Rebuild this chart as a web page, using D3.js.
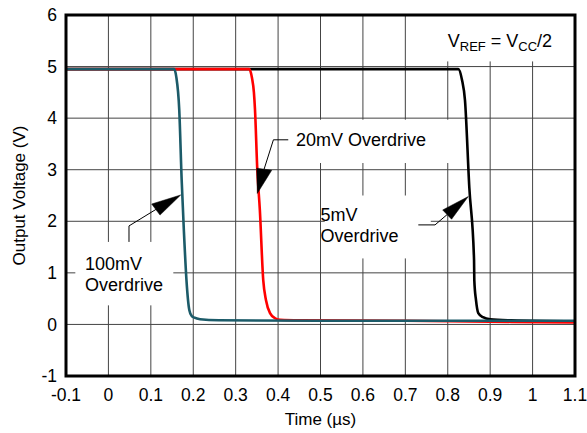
<!DOCTYPE html>
<html>
<head>
<meta charset="utf-8">
<script src="https://cdn.jsdelivr.net/npm/d3@7"></script>
<style>
  body { margin: 0; background: #fff; }
  text { font-family: "Liberation Sans", Arial, Helvetica, sans-serif; fill: #000; }
</style>
</head>
<body>
<div id="chart"></div>
<script>
// time in microseconds, output in volts
const xTicks = [-0.1, 0, 0.1, 0.2, 0.3, 0.4, 0.5, 0.6, 0.7, 0.8, 0.9, 1, 1.1]
const yTicks = [-1, 0, 1, 2, 3, 4, 5, 6]

const t5mV = [-0.1, 0.825, 0.8336, 0.8406, 0.8508, 0.862, 0.8626, 0.8666, 0.872, 0.883, 0.9, 0.95, 1.1]
const v5mV = [4.95, 4.95, 4.74, 4.35, 2.66, 1.25, 0.86, 0.47, 0.22, 0.14, 0.1, 0.08, 0.06]

const t20mV = [-0.1, 0.332, 0.3385, 0.343, 0.3456, 0.351, 0.357, 0.365, 0.3715, 0.381, 0.393, 0.405, 0.45, 0.7, 0.95, 1.1]
const v20mV = [4.95, 4.95, 4.78, 4.5, 4.16, 3.0, 2.22, 0.86, 0.47, 0.22, 0.12, 0.09, 0.08, 0.07, 0.05, 0.04]

const t100mV = [-0.1, 0.155, 0.160, 0.167, 0.1727, 0.178, 0.184, 0.1907, 0.196, 0.203, 0.216, 0.26, 0.5, 1.1]
const v100mV = [4.95, 4.95, 4.8, 4.16, 2.8, 1.8, 0.86, 0.28, 0.17, 0.13, 0.1, 0.08, 0.07, 0.07]

const W = 587, H = 433
const margin = { left: 66, top: 15, right: 12, bottom: 57 }
const w = W - margin.left - margin.right
const h = H - margin.top - margin.bottom

const translate = (x, y) => 'translate(' + x + ', ' + y + ')'

const svg = d3.select('#chart').append('svg')
    .attr('width', W).attr('height', H)
const g = svg.append('g').attr('transform', translate(margin.left, margin.top))

const x = d3.scaleLinear().domain([-0.1, 1.1]).range([0, w])
const y = d3.scaleLinear().domain([-1, 6]).range([h, 0])

// grid
g.append('g').selectAll('line').data(xTicks).join('line')
    .attr('x1', d => x(d)).attr('x2', d => x(d))
    .attr('y1', 0).attr('y2', h)
    .attr('stroke', '#444').attr('stroke-width', 1)
g.append('g').selectAll('line').data(yTicks).join('line')
    .attr('x1', 0).attr('x2', w)
    .attr('y1', d => y(d)).attr('y2', d => y(d))
    .attr('stroke', '#444').attr('stroke-width', 1)

// white boxes behind the labels
const boxes = [
    [-0.078, 0.153, 1.6, 0.37],
    [0.426, 0.806, 3.97, 3.13],
    [0.51, 0.76, 2.5, 1.28],
    [0.71, 1.095, 6, 5.1],
]
g.append('g').selectAll('rect').data(boxes).join('rect')
    .attr('x', d => x(d[0])).attr('width', d => x(d[1]) - x(d[0]))
    .attr('y', d => y(d[2])).attr('height', d => y(d[3]) - y(d[2]))
    .attr('fill', '#fff')

// curves
const series = [
    { t: t5mV, v: v5mV, color: '#000' },
    { t: t20mV, v: v20mV, color: '#ff0000' },
    { t: t100mV, v: v100mV, color: '#1c5b69' },
]
const line = d3.line()
    .x(d => x(d[0])).y(d => y(d[1]))
    .curve(d3.curveMonotoneX)
series.forEach(s => {
    g.append('path')
        .datum(s.t.map((t, i) => [t, s.v[i]]))
        .attr('d', line)
        .attr('fill', 'none')
        .attr('stroke', s.color)
        .attr('stroke-width', 2.6)
        .attr('stroke-linejoin', 'round')
})

// arrows: leader points then triangle (tip, base1, base2)
const arrows = [
    { leader: [[0.0485, 1.60], [0.0485, 1.91], [0.112, 2.23]], tri: [[0.1704, 2.51], [0.102, 2.335], [0.1216, 2.12]] },
    { leader: [[0.424, 3.58], [0.389, 3.58], [0.367, 3.01]], tri: [[0.351, 2.54], [0.3497, 3.03], [0.385, 2.99]] },
    { leader: [[0.7306, 1.93], [0.77, 1.93], [0.7985, 2.13]], tri: [[0.8484, 2.48], [0.788, 2.22], [0.809, 2.04]] },
]
arrows.forEach(a => {
    g.append('path')
        .attr('d', d3.line().x(d => x(d[0])).y(d => y(d[1]))(a.leader))
        .attr('fill', 'none').attr('stroke', '#000').attr('stroke-width', 1)
    g.append('path')
        .attr('d', d3.line().x(d => x(d[0])).y(d => y(d[1]))(a.tri) + 'Z')
        .attr('fill', '#000').attr('stroke', '#000').attr('stroke-width', 0.5)
})

// labels
const labels = [
    { t: -0.055, v: 1.06, text: '100mV' },
    { t: -0.055, v: 0.65, text: 'Overdrive' },
    { t: 0.442, v: 3.46, text: '20mV Overdrive' },
    { t: 0.5, v: 2.01, text: '5mV' },
    { t: 0.5, v: 1.60, text: 'Overdrive' },
]
g.append('g').selectAll('text').data(labels).join('text')
    .attr('x', d => x(d.t)).attr('y', d => y(d.v))
    .attr('font-size', 18)
    .text(d => d.text)

const vref = g.append('text')
    .attr('x', x(0.8)).attr('y', y(5.38))
    .attr('font-size', 18)
vref.append('tspan').text('V')
vref.append('tspan').attr('font-size', 13).attr('dy', 4).text('REF')
vref.append('tspan').attr('dy', -4).text(' = V')
vref.append('tspan').attr('font-size', 13).attr('dy', 4).text('CC')
vref.append('tspan').attr('dy', -4).text('/2')

// frame
g.append('rect')
    .attr('x', 0).attr('y', 0).attr('width', w).attr('height', h)
    .attr('fill', 'none').attr('stroke', '#000').attr('stroke-width', 3)

// tick labels (plain hyphen minus like the original)
g.append('g').selectAll('text').data(xTicks).join('text')
    .attr('x', d => x(d)).attr('y', h + 25)
    .attr('text-anchor', 'middle').attr('font-size', 17.5)
    .text(d => String(+d.toFixed(1)))
g.append('g').selectAll('text').data(yTicks).join('text')
    .attr('x', -9).attr('y', d => y(d))
    .attr('dy', '0.35em')
    .attr('text-anchor', 'end').attr('font-size', 17.5)
    .text(d => String(d))

// axis titles
g.append('text')
    .attr('x', w / 2).attr('y', h + 49)
    .attr('text-anchor', 'middle').attr('font-size', 17)
    .text('Time (\u00b5s)')
g.append('text')
    .attr('transform', translate(-41, h / 2) + ' rotate(-90)')
    .attr('text-anchor', 'middle').attr('font-size', 17)
    .text('Output Voltage (V)')
</script>
</body>
</html>
